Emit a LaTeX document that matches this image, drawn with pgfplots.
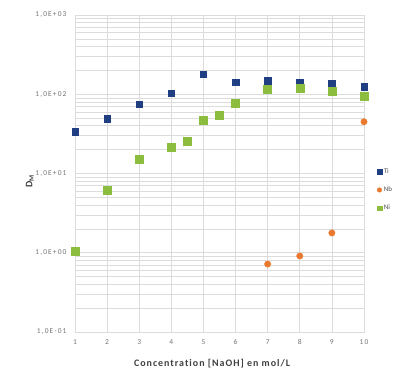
\documentclass[border=0pt]{standalone}
\usepackage{fontspec}
\setmainfont{Carlito}[Ligatures=NoCommon]
\usepackage{pgfplots}
\pgfplotsset{compat=1.18}
\definecolor{tiblue}{HTML}{1F3F82}
\definecolor{nborange}{HTML}{E8792F}
\definecolor{nigreen}{HTML}{8CBD3F}
\definecolor{gridgray}{HTML}{DCDCDC}
\begin{document}
\begin{tikzpicture}[x=1bp,y=1bp]
\useasboundingbox (0,0) rectangle (396,371);
\begin{axis}[at={(75bp,39bp)}, anchor=south west, scale only axis,
  width=289bp, height=317bp,
  ymode=log, log basis y=10,
  xmin=1, xmax=10, ymin=0.1, ymax=1000,
  xtick={1,...,10},
  ytick={0.1,1,10,100,1000},
  minor ytick={0.2,0.3,0.4,0.5,0.6,0.7,0.8,0.9,2,3,4,5,6,7,8,9,20,30,40,50,60,70,80,90,200,300,400,500,600,700,800,900},
  yticklabels={{1,0E-01},{1,0E+00},{1,0E+01},{1,0E+02},{1,0E+03}},
  grid=both,
  major grid style={gridgray, line width=0.6bp},
  minor grid style={gridgray, line width=0.6bp},
  axis line style={gridgray, line width=0.6bp},
  tick style={draw=none},
  /pgf/number format/assume math mode=true,
  ticklabel style={font=\fontsize{7.5}{8}\selectfont\addfontfeature{LetterSpace=15}, text=black!55},
  xticklabel style={yshift=-4bp},
  yticklabel style={xshift=-5bp},
  xlabel={\textbf{Concentration [NaOH] en mol/L}},
  xlabel style={font=\fontsize{10}{11}\selectfont\addfontfeature{LetterSpace=10,Ligatures=NoCommon}, text=black!75, at={(axis description cs:0.476,-0.1)}, anchor=center},
  ylabel={\textbf{D\textsubscript{M}}},
  ylabel style={font=\fontsize{10}{11}\selectfont, text=black!75, at={(axis description cs:-0.156,0.476)}, anchor=center},
  legend style={at={(axis description cs:1.045,0.448)}, anchor=west, draw=none, fill=none,
    font=\fontsize{7}{8}\selectfont, text=black!70, inner sep=0pt, row sep=8bp},
  legend cell align=left,
  legend image code/.code={\draw[#1, mark size=2.3bp] plot coordinates {(0.1cm,0cm)};},
]
\addplot[only marks, mark=square*, mark size=3.2bp, color=tiblue] coordinates {
(1,33.5) (2,49) (3,75) (4,103) (5,179) (6,142) (7,148) (8,140) (9,138) (10,125)};
\addlegendentry{Ti}
\addplot[only marks, mark=*, mark size=3.2bp, color=nborange] coordinates {
(7,0.72) (8,0.91) (9,1.78) (10,45)};
\addlegendentry{Nb}
\addplot[only marks, mark=square*, mark size=4bp, color=nigreen] coordinates {
(1,1.06) (2,6.2) (3,15.1) (4,21.2) (4.5,25.5) (5,46.5) (5.5,53.7) (6,77) (7,116) (8,118) (9,109) (10,95)};
\addlegendentry{Ni}
\end{axis}
\end{tikzpicture}
\end{document}
